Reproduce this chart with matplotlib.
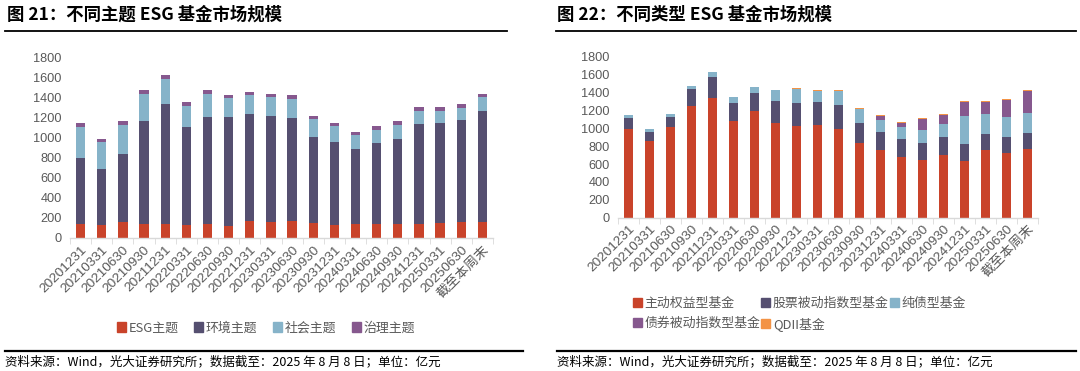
import matplotlib
matplotlib.use("Agg")
import matplotlib.pyplot as plt
from matplotlib.lines import Line2D
from matplotlib.patches import Patch
import numpy as np

plt.rcParams['font.family'] = ['Noto Sans CJK SC', 'DejaVu Sans']

categories = ["20201231", "20210331", "20210630", "20210930", "20211231", "20220331",
              "20220630", "20220930", "20221231", "20230331", "20230630", "20230930",
              "20231231", "20240331", "20240630", "20240930", "20241231", "20250331",
              "20250630", "截至本周末"]

# Left chart: themes
esg_theme = [143, 133, 163, 143, 143, 130, 137, 117, 173, 157, 173, 150, 130, 137, 137, 137, 137, 150, 157, 163]
env_theme = [657, 557, 677, 1024, 1200, 983, 1076, 1090, 1067, 1063, 1024, 863, 827, 756, 813, 850, 1000, 997, 1020, 1110]
soc_theme = [307, 267, 290, 270, 250, 204, 224, 190, 187, 187, 196, 177, 163, 137, 133, 146, 136, 126, 120, 134]
gov_theme = [46, 36, 40, 40, 40, 40, 40, 36, 30, 33, 40, 33, 33, 33, 37, 37, 34, 37, 43, 36]

# Right chart: fund types
active_eq = [995, 857, 1014, 1252, 1342, 1081, 1193, 1055, 1021, 1040, 995, 831, 753, 678, 648, 701, 634, 753, 719, 768]
stock_idx = [116, 105, 115, 190, 235, 205, 205, 253, 257, 257, 261, 224, 201, 198, 183, 201, 186, 182, 179, 182]
pure_bond = [37, 29, 34, 27, 48, 59, 67, 119, 157, 123, 164, 156, 138, 134, 145, 145, 320, 228, 224, 220]
bond_idx = [0, 0, 0, 0, 0, 0, 0, 0, 0, 0, 0, 0, 48, 45, 131, 105, 153, 130, 197, 250]
qdii = [0, 0, 0, 0, 0, 0, 0, 4, 11, 11, 11, 11, 8, 11, 11, 7, 8, 8, 8, 11]

C_RED = "#C9432A"
C_DARK = "#554F70"
C_LIGHT = "#86B3C9"
C_PURPLE = "#86588E"
C_ORANGE = "#F39345"
GRAY = "#595959"

W, H = 1080, 371
fig = plt.figure(figsize=(W / 100, H / 100), dpi=100)

def px_axes(x0, x1, ytop, ybot):
    return fig.add_axes([x0 / W, (H - ybot) / H, (x1 - x0) / W, (ybot - ytop) / H])

def style_axes(ax):
    ax.set_ylim(0, 1800)
    ax.set_yticks(np.arange(0, 1801, 200))
    ax.set_xlim(-0.5, len(categories) - 0.5)
    for s in ["top", "right", "left"]:
        ax.spines[s].set_visible(False)
    ax.spines["bottom"].set_color("#D9D9D9")
    ax.spines["bottom"].set_linewidth(1.0)
    ax.tick_params(axis="y", length=0, labelsize=9.2, labelcolor=GRAY, pad=6)
    for lab in ax.get_yticklabels():
        lab.set_family(['Liberation Sans', 'Noto Sans CJK SC'])
    x = np.arange(len(categories))
    ax.set_xticks(x)
    ax.set_xticklabels(categories, rotation=45, ha="right", rotation_mode="anchor",
                       fontsize=9.7, color=GRAY, family=['Liberation Sans', 'Noto Sans CJK SC'])
    ax.tick_params(axis="x", which="major", length=0, pad=4)
    ax.set_xticks(np.arange(-0.5, len(categories), 1.0), minor=True)
    ax.tick_params(axis="x", which="minor", length=4, color="#D9D9D9", direction="out")

def stack(ax, series, colors, width=0.44):
    x = np.arange(len(categories))
    bottom = np.zeros(len(categories))
    for vals, col in zip(series, colors):
        v = np.array(vals, dtype=float)
        ax.bar(x, v, width=width, bottom=bottom, color=col, edgecolor="none", zorder=2)
        bottom += v

# Left chart
ax1 = px_axes(70, 493, 58, 238)
stack(ax1, [esg_theme, env_theme, soc_theme, gov_theme], [C_RED, C_DARK, C_LIGHT, C_PURPLE])
style_axes(ax1)
h1 = [Patch(color=c) for c in [C_RED, C_DARK, C_LIGHT, C_PURPLE]]
fig.legend(h1, ["ESG主题", "环境主题", "社会主题", "治理主题"], loc="center",
           bbox_to_anchor=(266 / W, 1 - 328 / H), ncol=4, frameon=False,
           fontsize=9.3, labelcolor=GRAY, handlelength=0.7, handleheight=0.7,
           handletextpad=0.2, columnspacing=1.2)

# Right chart
ax2 = px_axes(618, 1038, 56.7, 217.7)
stack(ax2, [active_eq, stock_idx, pure_bond, bond_idx, qdii],
      [C_RED, C_DARK, C_LIGHT, C_PURPLE, C_ORANGE])
style_axes(ax2)
labels2 = ["主动权益型基金", "债券被动指数型基金", "股票被动指数型基金", "QDII基金", "纯债型基金"]
cols2 = [C_RED, C_PURPLE, C_DARK, C_ORANGE, C_LIGHT]
h2 = [Patch(color=c) for c in cols2]
fig.legend(h2, labels2, loc="upper left",
           bbox_to_anchor=(621 / W, 1 - 285 / H), ncol=3, frameon=False,
           fontsize=9.3, labelcolor=GRAY, handlelength=0.7, handleheight=0.7,
           handletextpad=0.2, columnspacing=0.08, labelspacing=0.55)

# Titles, rules and footers
fig.text(7 / W, 1 - 15 / H, "图 21：不同主题 ESG 基金市场规模", fontsize=12.5,
         fontweight="bold", va="center", ha="left")
fig.text(557 / W, 1 - 15 / H, "图 22：不同类型 ESG 基金市场规模", fontsize=12.5,
         fontweight="bold", va="center", ha="left")
for (xa, xb) in [(5, 507), (556, 1076)]:
    fig.add_artist(Line2D([xa / W, xb / W], [1 - 31 / H, 1 - 31 / H], color="black", lw=1.3))
for (xa, xb) in [(5, 523), (557, 1076)]:
    fig.add_artist(Line2D([xa / W, xb / W], [1 - 351 / H, 1 - 351 / H], color="black", lw=1.6))
foot = "资料来源：Wind，光大证券研究所；数据截至：2025 年 8 月 8 日；单位：亿元"
fig.text(5 / W, 1 - 362 / H, foot, fontsize=9.0, va="center", ha="left")
fig.text(557 / W, 1 - 362 / H, foot, fontsize=9.0, va="center", ha="left")

fig.savefig("out.png", dpi=100)
